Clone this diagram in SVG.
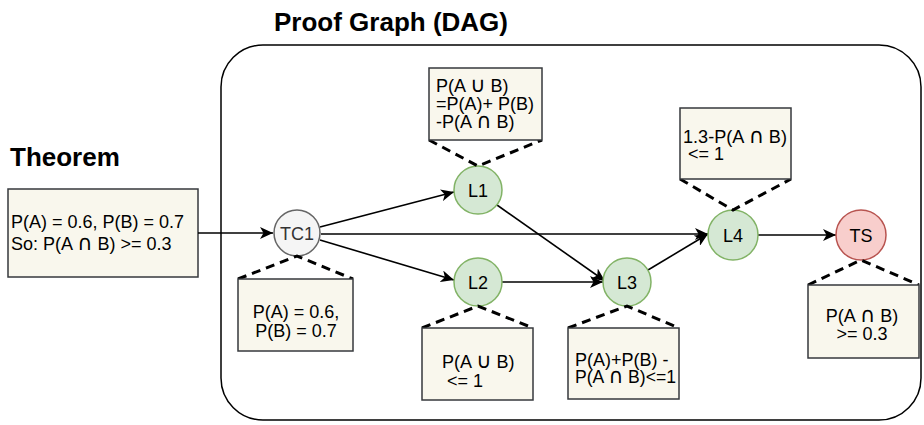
<svg xmlns="http://www.w3.org/2000/svg" width="924" height="425" viewBox="0 0 924 425">
<defs>
<marker id="arr" markerUnits="userSpaceOnUse" markerWidth="14" markerHeight="12" refX="13" refY="6" orient="auto">
<path d="M0,0 L13,6 L0,12 L3.5,6 z" fill="#000"/>
</marker>
<style>
text{font-family:"Liberation Sans",Arial,sans-serif;font-size:18px;fill:#000}
.title{font-size:26px;font-weight:bold}
.s{font-family:"DejaVu Sans",sans-serif;font-size:21px}
.box{fill:#f9f7ed;stroke:#36393d;stroke-width:1.5}
.green{fill:#d5e8d4;stroke:#82b366;stroke-width:1.5}
.gray{fill:#f5f5f5;stroke:#666666;stroke-width:1.5}
.red{fill:#f8cecc;stroke:#b85450;stroke-width:1.5}
.dash{fill:none;stroke:#000;stroke-width:3;stroke-dasharray:9 6}
.edge{fill:none;stroke:#000;stroke-width:1.6;marker-end:url(#arr)}
.c{text-anchor:middle}
</style>
</defs>
<rect width="924" height="425" fill="#fff"/>
<g id="container">
<rect x="221" y="45" width="700" height="375" rx="42" ry="42" fill="none" stroke="#000" stroke-width="1.5"/>
<text class="title" x="274" y="31">Proof Graph (DAG)</text>
</g>
<g id="theorem">
<text class="title" x="10" y="166">Theorem</text>
<rect class="box" x="8" y="189" width="190" height="88"/>
<text x="11" y="228">P(A) = 0.6, P(B) = 0.7</text>
<text x="11" y="250">So: P(A <tspan class="s">∩</tspan> B) &gt;= 0.3</text>
</g>
<g id="connectors">
<line class="edge" x1="198" y1="233" x2="273" y2="233"/>
<line class="edge" x1="320" y1="227" x2="454" y2="192"/>
<line class="edge" x1="321" y1="234" x2="708" y2="234"/>
<line class="edge" x1="320" y1="240" x2="454" y2="280"/>
<line class="edge" x1="497" y1="205" x2="605" y2="281"/>
<line class="edge" x1="502" y1="282" x2="603" y2="282"/>
<line class="edge" x1="648" y1="270" x2="708" y2="234"/>
<line class="edge" x1="758" y1="235" x2="836" y2="235"/>
</g>
<g id="TC1">
<circle class="gray" cx="297" cy="233" r="23"/>
<text class="c" x="297" y="240" style="fill:#333">TC1</text>
<path class="dash" d="M238,279 L297,256 L353,279"/>
<rect class="box" x="238" y="279" width="115" height="72"/>
<text class="c" x="296" y="318">P(A) = 0.6,</text>
<text class="c" x="296" y="337">P(B) = 0.7</text>
</g>
<g id="L1">
<circle class="green" cx="478" cy="190" r="24"/>
<text class="c" x="478" y="197">L1</text>
<path class="dash" d="M429,140 L478,166 L542,140"/>
<rect class="box" x="429" y="68" width="113" height="72"/>
<text x="436" y="92">P(A <tspan class="s">∪</tspan> B)</text>
<text x="436" y="110">=P(A)+ P(B)</text>
<text x="436" y="128">-P(A <tspan class="s">∩</tspan> B)</text>
</g>
<g id="L2">
<circle class="green" cx="478" cy="282" r="24"/>
<text class="c" x="478" y="289">L2</text>
<path class="dash" d="M422,328 L478,306 L533,328"/>
<rect class="box" x="422" y="328" width="111" height="72"/>
<text x="442" y="368">P(A <tspan class="s">∪</tspan> B)</text>
<text x="447" y="387">&lt;= 1</text>
</g>
<g id="L3">
<circle class="green" cx="627" cy="282" r="24"/>
<text class="c" x="627" y="289">L3</text>
<path class="dash" d="M568,328 L627,306 L679,328"/>
<rect class="box" x="568" y="328" width="111" height="71"/>
<text x="575" y="366">P(A)+P(B) -</text>
<text x="575" y="383" textLength="101" lengthAdjust="spacingAndGlyphs">P(A <tspan class="s">∩</tspan> B)&lt;=1</text>
</g>
<g id="L4">
<circle class="green" cx="733" cy="235" r="25"/>
<text class="c" x="733" y="242">L4</text>
<path class="dash" d="M680,179 L733,210 L791,179"/>
<rect class="box" x="680" y="108" width="111" height="71"/>
<text x="683" y="143" textLength="104" lengthAdjust="spacingAndGlyphs">1.3-P(A <tspan class="s">∩</tspan> B)</text>
<text x="688" y="160">&lt;= 1</text>
</g>
<g id="TS">
<circle class="red" cx="861" cy="235" r="25"/>
<text class="c" x="861" y="242">TS</text>
<path class="dash" d="M808,285 L861,260 L919,285"/>
<rect class="box" x="808" y="285" width="111" height="73"/>
<text class="c" x="862" y="322">P(A <tspan class="s">∩</tspan> B)</text>
<text class="c" x="862" y="340">&gt;= 0.3</text>
</g>
</svg>
